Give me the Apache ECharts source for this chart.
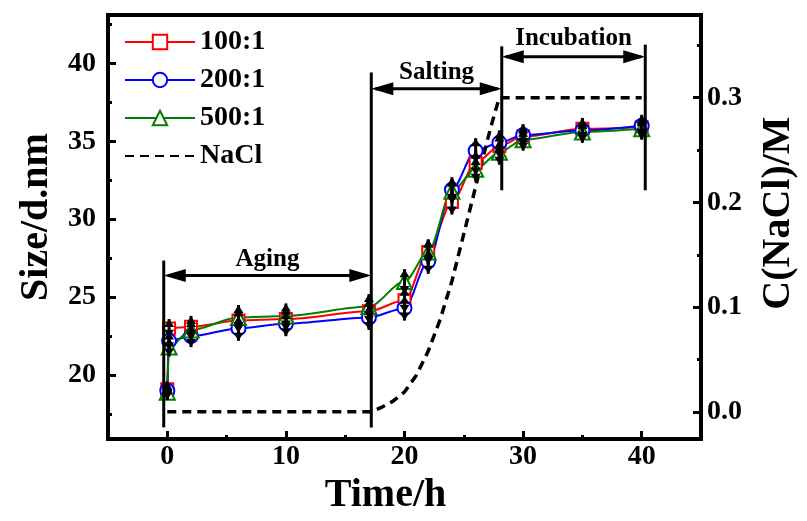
<!DOCTYPE html>
<html><head><meta charset="utf-8">
<script src="https://cdn.jsdelivr.net/npm/echarts@6/dist/echarts.min.js"></script>
<style>html,body{margin:0;padding:0;background:#fff}#c{width:807px;height:521px}</style>
</head><body><div id="c"></div><script>
// ---- data ----
const times   = [0, 0.15, 2, 6, 10, 17, 20, 22, 24, 26, 28, 30, 35, 40];
const size100 = [19.1, 23.0, 23.1, 23.5, 23.6, 24.1, 24.8, 27.9, 31.1, 33.6, 34.7, 35.3, 35.8, 35.9];
const size200 = [19.0, 22.2, 22.5, 23.0, 23.3, 23.7, 24.3, 27.3, 31.9, 34.4, 34.9, 35.4, 35.7, 36.0];
const size500 = [18.9, 21.8, 22.9, 23.7, 23.8, 24.4, 26.0, 27.9, 31.8, 33.2, 34.3, 35.1, 35.6, 35.8];
const err100  = [0.5, 0.6, 0.7, 0.8, 0.8, 0.8, 0.8, 0.8, 0.8, 0.8, 0.8, 0.7, 0.7, 0.7];
const err200  = [0.5, 0.6, 0.7, 0.8, 0.8, 0.8, 0.8, 0.8, 0.8, 0.8, 0.8, 0.7, 0.7, 0.7];
const err500  = [0.5, 0.6, 0.7, 0.8, 0.8, 0.8, 0.8, 0.8, 0.8, 0.8, 0.8, 0.7, 0.7, 0.7];
const naclTimes = [0, 17.2, 18, 19, 20, 21, 22, 23, 24, 25, 26, 27, 27.6, 28, 40];
const naclConc  = [0, 0, 0.004, 0.01, 0.019, 0.035, 0.058, 0.088, 0.125, 0.17, 0.215, 0.26, 0.285, 0.3, 0.3];
const seriesNames = ['100:1', '200:1', '500:1', 'NaCl'];
const xTicks = [0, 10, 20, 30, 40];
const xMinorTicks = [5, 15, 25, 35];
const yTicks = [20, 25, 30, 35, 40];
const yMinorTicks = [17.5, 22.5, 27.5, 32.5, 37.5, 42.5];
const cTicks = [0, 0.1, 0.2, 0.3];
const cMinorTicks = [0.05, 0.15, 0.25, 0.35];
const phaseNames  = ['Aging', 'Salting', 'Incubation'];
const phaseStart  = [-0.3, 17.2, 28.2];
const phaseEnd    = [17.2, 28.2, 40.3];
const phaseArrowY = [26.4, 38.37, 40.43];
const phaseLabelY = [27.4, 39.4, 41.6];
const boundT      = [-0.3, 17.2, 28.2, 40.3];
const boundTop    = [27.35, 39.41, 41.09, 41.2];
const boundBottom = [16.65, 16.64, 31.86, 31.86];

// ---- chart ----
const FONT = '"Liberation Serif", "Times New Roman", serif';
const colors = ['#ff0000', '#0000ff', '#008000'];
const symbols = ['rect', 'circle', 'triangle'];
const symbolSizes = [12, 14, 15];
const sizes = [size100, size200, size500];
const errs = [err100, err200, err500];

const chart = echarts.init(document.getElementById('c'), null, {renderer: 'canvas'});

const labelStyle = {fontFamily: FONT, fontWeight: 'bold', fontSize: 28, color: '#000'};

function valueAxisBase(min, max) {
  return {type: 'value', min: min, max: max, splitLine: {show: false}, scale: true};
}

const xMain = Object.assign(valueAxisBase(-5, 45), {
  position: 'bottom',
  axisLine: {onZero: false, lineStyle: {color: '#000', width: 4}},
  axisTick: {inside: true, length: 8, customValues: xTicks, lineStyle: {color: '#000', width: 3}},
  axisLabel: Object.assign({customValues: xTicks, margin: 4}, labelStyle),
  name: 'Time/h', nameLocation: 'middle', nameGap: 36,
  nameTextStyle: {fontFamily: FONT, fontWeight: 'bold', fontSize: 40, color: '#000', padding: [0, 38, 0, 0]}
});
const xMinor = Object.assign(valueAxisBase(-5, 45), {
  position: 'bottom',
  axisLine: {show: false, onZero: false},
  axisTick: {inside: true, length: 4, customValues: xMinorTicks, lineStyle: {color: '#000', width: 3}},
  axisLabel: {show: false}
});
const yLeft = Object.assign(valueAxisBase(15.9, 43.1), {
  position: 'left',
  axisLine: {show: true, onZero: false, lineStyle: {color: '#000', width: 4}},
  axisTick: {show: true, inside: true, length: 8, customValues: yTicks, lineStyle: {color: '#000', width: 3}},
  axisLabel: Object.assign({customValues: yTicks, margin: 12}, labelStyle),
  name: 'Size/d.nm', nameLocation: 'middle', nameGap: 51,
  nameTextStyle: {fontFamily: FONT, fontWeight: 'bold', fontSize: 40, color: '#000', padding: [0, 0, 0, 20]}
});
const yRight = Object.assign(valueAxisBase(-0.026, 0.379), {
  position: 'right',
  axisLine: {show: true, onZero: false, lineStyle: {color: '#000', width: 4}},
  axisTick: {show: true, inside: true, length: 8, customValues: cTicks, lineStyle: {color: '#000', width: 3}},
  axisLabel: Object.assign({customValues: cTicks, margin: 6, formatter: v => v.toFixed(1)}, labelStyle),
  name: 'C(NaCl)/M', nameLocation: 'middle', nameGap: 58,
  nameTextStyle: {fontFamily: FONT, fontWeight: 'bold', fontSize: 40, color: '#000', padding: [0, 0, 0, 28]}
});
const yLeftMinor = Object.assign(valueAxisBase(15.9, 43.1), {
  position: 'left',
  axisLine: {show: false, onZero: false},
  axisTick: {show: true, inside: true, length: 4, customValues: yMinorTicks, lineStyle: {color: '#000', width: 3}},
  axisLabel: {show: false}
});
const yRightMinor = Object.assign(valueAxisBase(-0.026, 0.379), {
  position: 'right',
  axisLine: {show: false, onZero: false},
  axisTick: {show: true, inside: true, length: 4, customValues: cMinorTicks, lineStyle: {color: '#000', width: 3}},
  axisLabel: {show: false}
});

const series = [];
for (let k = 0; k < 3; k++) {
  series.push({
    name: seriesNames[k], type: 'line', xAxisIndex: 0, yAxisIndex: 0,
    data: times.map((t, i) => [t, sizes[k][i]]),
    smooth: 0.3, smoothMonotone: 'x',
    symbol: symbols[k], symbolSize: symbolSizes[k], showAllSymbol: true,
    color: colors[k],
    lineStyle: {color: colors[k], width: 2},
    itemStyle: {color: '#fff', borderColor: colors[k], borderWidth: 2},
    z: 2
  });
}
series.push({
  name: seriesNames[3], type: 'line', xAxisIndex: 0, yAxisIndex: 1,
  data: naclTimes.map((t, i) => [t, naclConc[i]]),
  symbol: 'none', color: '#000',
  lineStyle: {color: '#000', width: 3.5, type: [9, 6]},
  z: 2
});

function renderErr(params, api) {
  const t = api.value(0), y = api.value(1), e = api.value(2);
  const top = api.coord([t, y + e]), bot = api.coord([t, y - e]);
  const w = 5, h = 8;
  return {type: 'group', children: [
    {type: 'line', shape: {x1: top[0], y1: top[1], x2: bot[0], y2: bot[1]}, style: {stroke: '#000', lineWidth: 3}},
    {type: 'polygon', shape: {points: [[top[0], top[1]], [top[0] - w, top[1] + h], [top[0] + w, top[1] + h]]}, style: {fill: '#000'}},
    {type: 'polygon', shape: {points: [[bot[0], bot[1]], [bot[0] - w, bot[1] - h], [bot[0] + w, bot[1] - h]]}, style: {fill: '#000'}}
  ]};
}
for (let k = 0; k < 3; k++) {
  series.push({
    type: 'custom', name: 'err' + k, xAxisIndex: 0, yAxisIndex: 0,
    data: times.map((t, i) => [t, sizes[k][i], errs[k][i]]),
    encode: {x: 0, y: 1}, renderItem: renderErr, z: 3, silent: true
  });
}

// phase boundary lines
series.push({
  type: 'custom', name: 'bounds', xAxisIndex: 0, yAxisIndex: 0,
  data: boundT.map((t, i) => [t, boundTop[i], boundBottom[i]]),
  encode: {x: 0, y: [1, 2]},
  renderItem: function (params, api) {
    const a = api.coord([api.value(0), api.value(1)]);
    const b = api.coord([api.value(0), api.value(2)]);
    return {type: 'line', shape: {x1: a[0], y1: a[1], x2: b[0], y2: b[1]}, style: {stroke: '#000', lineWidth: 3}};
  }, z: 4, silent: true
});
// phase arrows + labels
series.push({
  type: 'custom', name: 'phases', xAxisIndex: 0, yAxisIndex: 0,
  data: phaseStart.map((s, i) => [s, phaseEnd[i], phaseArrowY[i], phaseLabelY[i], i]),
  encode: {x: [0, 1], y: [2, 3]},
  renderItem: function (params, api) {
    const p1 = api.coord([api.value(0), api.value(2)]);
    const p2 = api.coord([api.value(1), api.value(2)]);
    const mid = api.coord([(api.value(0) + api.value(1)) / 2, api.value(3)]);
    const L = 22, H = 6.5;
    return {type: 'group', children: [
      {type: 'line', shape: {x1: p1[0] + 4, y1: p1[1], x2: p2[0] - 4, y2: p2[1]}, style: {stroke: '#000', lineWidth: 3}},
      {type: 'polygon', shape: {points: [[p1[0], p1[1]], [p1[0] + L, p1[1] - H], [p1[0] + L, p1[1] + H]]}, style: {fill: '#000'}},
      {type: 'polygon', shape: {points: [[p2[0], p2[1]], [p2[0] - L, p2[1] - H], [p2[0] - L, p2[1] + H]]}, style: {fill: '#000'}},
      {type: 'text', style: {text: phaseNames[api.value(4)], x: mid[0], y: mid[1], align: 'center', verticalAlign: 'middle',
        font: 'bold 25px ' + FONT, fill: '#000'}}
    ]};
  }, z: 4, silent: true
});

chart.setOption({
  animation: false,
  backgroundColor: '#fff',
  grid: {left: 108, right: 97, top: 15, bottom: 74, show: true, borderColor: '#000', borderWidth: 4, containLabel: false},
  legend: {
    data: [seriesNames[0], seriesNames[1], seriesNames[2],
           {name: seriesNames[3], itemStyle: {opacity: 0, color: 'rgba(0,0,0,0)', borderWidth: 0}}],
    orient: 'vertical', left: 119, top: 23,
    itemWidth: 70, itemHeight: 18, itemGap: 10,
    textStyle: {fontFamily: FONT, fontWeight: 'bold', fontSize: 28, color: '#000'},
    selectedMode: false
  },
  xAxis: [xMain, xMinor],
  yAxis: [yLeft, yRight, yLeftMinor, yRightMinor],
  series: series
});
</script></body></html>
